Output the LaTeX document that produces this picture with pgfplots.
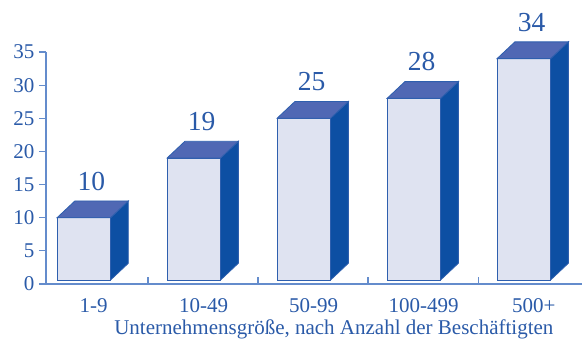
\documentclass[border=0pt]{standalone}
\usepackage{pgfplots}
\pgfplotsset{compat=1.18}
\usepackage{fontspec}
\setmainfont{Liberation Serif}
\definecolor{txt}{RGB}{42,90,168}
\definecolor{axc}{RGB}{100,140,204}
\definecolor{edge}{RGB}{46,95,174}
\definecolor{frontc}{RGB}{223,227,241}
\definecolor{sidec}{RGB}{13,79,163}
\definecolor{topc}{RGB}{80,104,180}
\begin{document}
\begin{tikzpicture}
\begin{axis}[
  name=ax,
  scale only axis, width=536pt, height=232pt,
  xmin=-0.3436, xmax=4.529, ymin=0, ymax=35,
  axis lines*=left,
  axis line style={axc, line width=1.3pt},
  clip=false,
  /pgf/number format/assume math mode=true,
  tick align=inside,
  major tick length=7pt,
  ytick={0,5,...,35},
  ytick style={axc, line width=1.1pt, xshift=-7pt},
  yticklabel style={xshift=-8pt},
  xtick={0.584,1.584,2.584,3.584},
  xticklabels={},
  xtick style={axc, line width=1.1pt},
  extra x ticks={0.09,1.09,2.09,3.09,4.09},
  extra x tick labels={1-9,10-49,50-99,100-499,500+},
  extra x tick style={major tick length=0pt, xticklabel style={anchor=base, yshift=-29pt}},
  tick label style={font=\fontsize{21}{24}\selectfont, text=txt},
  xlabel={Unternehmensgröße, nach Anzahl der Beschäftigten},
  xlabel style={at={(axis description cs:0.537,0)}, anchor=base, yshift=-50.5pt, font=\fontsize{21}{24}\selectfont, text=txt, inner sep=0pt},
]
\foreach \i/\v in {0/10,1/19,2/25,3/28,4/34}{
  \pgfmathsetmacro\xl{\i-0.243}
  \pgfmathsetmacro\xr{\i+0.243}
  \pgfmathsetmacro\xb{\i+0.405}
  \pgfmathsetmacro\xt{\i-0.081}
  \pgfmathsetmacro\vt{\v+2.53}
  \edef\temp{%
    \noexpand\addplot[draw=edge, fill=frontc, line width=0.8pt] coordinates {(\xl,0.6) (\xr,0.6) (\xr,\v) (\xl,\v)} --cycle;
    \noexpand\addplot[draw=edge, fill=sidec, line width=0.8pt] coordinates {(\xr,0.6) (\xb,3.13) (\xb,\vt) (\xr,\v)} --cycle;
    \noexpand\addplot[draw=edge, fill=topc, line width=0.8pt] coordinates {(\xl,\v) (\xr,\v) (\xb,\vt) (\xt,\vt)} --cycle;
  }%
  \temp
}
\addplot[draw=none, mark=none, nodes near coords, point meta=y,
  every node near coord/.append style={anchor=base, yshift=27.5pt, font=\fontsize{27.5}{30}\selectfont, text=txt, inner sep=0pt}]
  coordinates {(0.07,10) (1.07,19) (2.07,25) (3.07,28) (4.07,34)};
\end{axis}
\pgfresetboundingbox
\path[use as bounding box] ([shift={(-46pt,-56pt)}]ax.south west) rectangle ([shift={(536pt,284pt)}]ax.south west);
\end{tikzpicture}
\end{document}
